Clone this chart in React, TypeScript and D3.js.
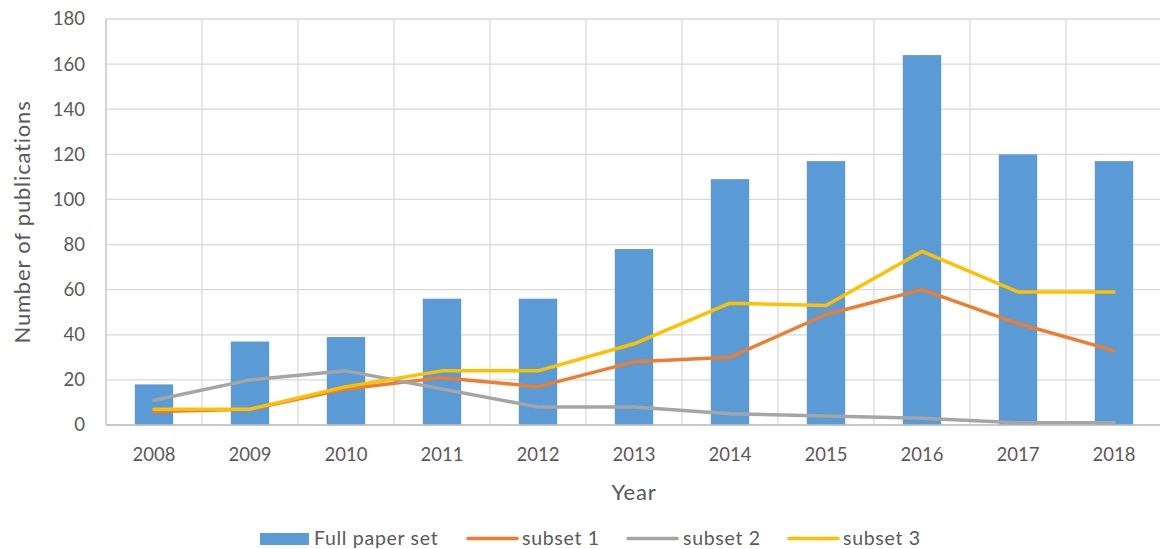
import React from 'react';
import * as d3 from 'd3';

const years: string[] = ['2008', '2009', '2010', '2011', '2012', '2013', '2014', '2015', '2016', '2017', '2018'];
const fullPaperSet: number[] = [18, 37, 39, 56, 56, 78, 109, 117, 164, 120, 117];
const subset1: number[] = [6, 7, 16, 21, 17, 28, 30, 49, 60, 45, 33];
const subset2: number[] = [11, 20, 24, 16, 8, 8, 5, 4, 3, 1, 1];
const subset3: number[] = [7, 7, 17, 24, 24, 36, 54, 53, 77, 59, 59];
const yTicks: number[] = [0, 20, 40, 60, 80, 100, 120, 140, 160, 180];

const W = 1160;
const H = 549;
const font = 'Lato, "Open Sans", sans-serif';
const textColor = '#595959';

const lineSeries = [
  { name: 'subset 1', values: subset1, color: '#ED7D31' },
  { name: 'subset 2', values: subset2, color: '#A5A5A5' },
  { name: 'subset 3', values: subset3, color: '#FFC000' }
];

const App: React.FC = () => {
  const margin = { top: 19, right: -2, bottom: 124, left: 106 };

  const x = d3.scaleBand()
    .domain(years)
    .range([margin.left, W - margin.right])
    .paddingInner(0.6)
    .paddingOuter(0.3);

  const y = d3.scaleLinear()
    .domain([0, 180])
    .range([H - margin.bottom, margin.top]);

  const step = x.step();
  const x0 = margin.left;
  const cx = (d: string) => (x(d) || 0) + x.bandwidth() / 2;

  const line = d3.line<number>()
    .x((_, i) => cx(years[i]))
    .y(d => y(d));

  // legend entries: swatch start, swatch width, text start
  const legend = [
    { name: 'Full paper set', kind: 'bar', color: '#5B9BD5', x: 260, w: 49, tx: 314 },
    { name: 'subset 1', kind: 'line', color: '#ED7D31', x: 468, w: 49, tx: 522 },
    { name: 'subset 2', kind: 'line', color: '#A5A5A5', x: 628, w: 49, tx: 683 },
    { name: 'subset 3', kind: 'line', color: '#FFC000', x: 789, w: 49, tx: 843 }
  ];

  return (
    <div style={{ position: 'absolute', left: 0, top: 0 }}>
      <svg width={W} height={H} style={{ display: 'block', background: '#fff' }}>
        {/* horizontal grid */}
        {yTicks.map(t => (
          <line key={'h' + t} x1={x0} x2={W} y1={y(t)} y2={y(t)} stroke="#D9D9D9" strokeWidth={1.3} />
        ))}
        {/* vertical grid at category boundaries */}
        {d3.range(0, years.length + 1).map(i => (
          <line key={'v' + i} x1={x0 + i * step} x2={x0 + i * step} y1={y(180)} y2={y(0)}
            stroke={i === 0 ? '#BFBFBF' : '#D9D9D9'} strokeWidth={1.3} />
        ))}
        {/* bars */}
        {years.map((yr, i) => (
          <rect key={'b' + yr} x={x(yr)} y={y(fullPaperSet[i])} width={x.bandwidth()}
            height={y(0) - y(fullPaperSet[i])} fill="#5B9BD5" />
        ))}
        {/* x axis line */}
        <line x1={x0} x2={W} y1={y(0)} y2={y(0)} stroke="#BFBFBF" strokeWidth={1.5} />
        {/* lines */}
        {lineSeries.map(s => (
          <path key={s.name} d={line(s.values) || ''} fill="none" stroke={s.color}
            strokeWidth={3.5} strokeLinejoin="round" strokeLinecap="round" />
        ))}
        {/* y tick labels */}
        {yTicks.map(t => (
          <text key={'yl' + t} x={85} y={y(t)} dy="0.35em" textAnchor="end"
            fontFamily={font} fontSize={18.5} fill={textColor}>{t}</text>
        ))}
        {/* x tick labels */}
        {years.map(yr => (
          <text key={'xl' + yr} x={cx(yr)} y={455} dy="0.35em" textAnchor="middle"
            fontFamily={font} fontSize={18.5} fill={textColor}>{yr}</text>
        ))}
        <text x={634} y={492} dy="0.35em" textAnchor="middle" fontFamily={font} fontSize={22}
          letterSpacing={0.8} fill={textColor}>Year</text>
        <text transform={`translate(22,${(y(0) + y(180)) / 2}) rotate(-90)`} dy="0.35em" textAnchor="middle"
          fontFamily={font} fontSize={22} letterSpacing={0.8} fill={textColor}>Number of publications</text>
        {/* legend */}
        {legend.map(l => (
          <g key={'lg' + l.name}>
            {l.kind === 'bar'
              ? <rect x={l.x} y={533} width={l.w} height={12} fill={l.color} />
              : <line x1={l.x} x2={l.x + l.w} y1={538.5} y2={538.5} stroke={l.color} strokeWidth={3.5} strokeLinecap="round" />}
            <text x={l.tx} y={538.5} dy="0.35em" fontFamily={font} fontSize={19.5} letterSpacing={0.7}
              fill={textColor}>{l.name}</text>
          </g>
        ))}
      </svg>
    </div>
  );
};

export default App;
